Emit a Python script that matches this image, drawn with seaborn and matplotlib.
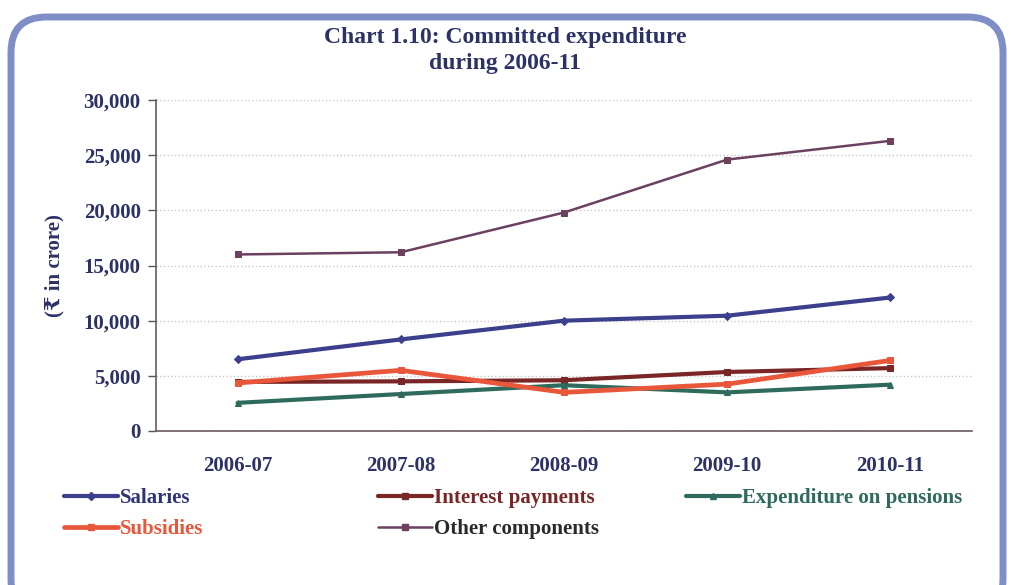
import matplotlib
matplotlib.use("Agg")
import matplotlib.pyplot as plt
from matplotlib.patches import FancyBboxPatch
from matplotlib.lines import Line2D
import seaborn as sns
import pandas as pd

years = ["2006-07", "2007-08", "2008-09", "2009-10", "2010-11"]
salaries = [6500, 8300, 10000, 10450, 12100]
interest = [4450, 4500, 4600, 5350, 5700]
pensions = [2550, 3350, 4150, 3500, 4200]
subsidies = [4350, 5500, 3500, 4250, 6400]
others = [16000, 16200, 19800, 24600, 26300]

series_names = ["Salaries", "Interest payments", "Expenditure on pensions",
                "Subsidies", "Other components"]
series_values = [salaries, interest, pensions, subsidies, others]
colors = ["#3b3f8c", "#7a2526", "#2f6b5c", "#e8573a", "#6b4060"]
text_colors = ["#2f3478", "#7a2526", "#2f6b5c", "#e8573a", "#2a2a2a"]
markers = ["D", "s", "^", "s", "s"]
widths = [3.0, 3.0, 3.0, 3.4, 1.8]

rows = []
for name, vals in zip(series_names, series_values):
    for yr, v in zip(years, vals):
        rows.append({"Year": yr, "Value": v, "Series": name})
df = pd.DataFrame(rows)

sns.set_theme(style="white")
serif = ["Liberation Serif", "DejaVu Serif", "DejaVu Sans"]
plt.rcParams["font.family"] = serif

fig = plt.figure(figsize=(10.12, 5.85), dpi=100)
fig.patch.set_facecolor("white")

# rounded frame around the chart
frame = FancyBboxPatch((11 / 1012, -0.05), 992 / 1012, (585 - 17) / 585 + 0.05,
                       boxstyle="round,pad=0,rounding_size=0.035",
                       transform=fig.transFigure, facecolor="none",
                       edgecolor="#7f8ec6", linewidth=5, zorder=-1,
                       mutation_aspect=1012 / 585)
fig.patches.append(frame)

ax = fig.add_axes([156 / 1012, (585 - 431) / 585, 816 / 1012, 331 / 585])
ax.set_zorder(2)
ax.set_facecolor("none")

for name, col, mk, lw in zip(series_names, colors, markers, widths):
    sub = df[df["Series"] == name]
    sns.lineplot(data=sub, x="Year", y="Value", ax=ax, color=col, linewidth=lw,
                 marker=mk, markersize=4, markeredgecolor=col, legend=False,
                 sort=False)

ax.set_xlim(-0.5, 4.5)
ax.set_ylim(0, 30000)
ax.set_yticks(range(0, 30001, 5000))
ax.set_yticklabels([f"{v:,}" for v in range(0, 30001, 5000)])
ax.set_xticks(range(5))
ax.set_xticklabels(years)
ax.set_xticks([i - 0.5 for i in range(6)], minor=True)
ax.tick_params(axis="x", which="major", length=0, pad=18)
ax.tick_params(axis="x", which="minor", length=6, width=1, color="#555555",
               direction="out")
ax.tick_params(axis="y", length=6, width=1, color="#555555", direction="out",
               left=True, pad=5)
for lbl in ax.get_xticklabels() + ax.get_yticklabels():
    lbl.set_fontweight("bold")
    lbl.set_fontsize(15)
    lbl.set_color("#2c3166")

ax.grid(axis="y", color="#c8c8c8", linestyle=":", linewidth=1)
for side in ["top", "right"]:
    ax.spines[side].set_visible(False)
ax.spines["left"].set_color("#6a5a5a")
ax.spines["bottom"].set_color("#6a5a5a")
ax.spines["left"].set_linewidth(1.2)
ax.spines["bottom"].set_linewidth(1.2)
ax.set_xlabel("")
ax.set_ylabel("(\u20b9 in crore)", fontsize=15, fontweight="bold",
              color="#2c3166", labelpad=14)

fig.text(505 / 1012, 1 - 38 / 585, "Chart 1.10: Committed expenditure",
         ha="center", va="center", fontsize=17, fontweight="bold", color="#2c3166")
fig.text(505 / 1012, 1 - 63 / 585, "during 2006-11",
         ha="center", va="center", fontsize=17, fontweight="bold", color="#2c3166")

# legend: three columns placed explicitly
columns = [([0, 3], 64), ([1, 4], 378), ([2], 686)]
for idx, xpx in columns:
    hs = [Line2D([0], [0], color=colors[i], lw=widths[i], marker=markers[i],
                 markersize=4) for i in idx]
    leg = fig.legend(hs, [series_names[i] for i in idx], loc="upper left",
                     bbox_to_anchor=(xpx / 1012, 1 - 488 / 585), frameon=False,
                     handlelength=2.6, handletextpad=0.1, labelspacing=0.55,
                     borderaxespad=0, borderpad=0,
                     prop={"family": serif, "weight": "bold", "size": 15})
    for t, i in zip(leg.get_texts(), idx):
        t.set_color(text_colors[i])

fig.savefig("out.png", dpi=100, facecolor="white")
